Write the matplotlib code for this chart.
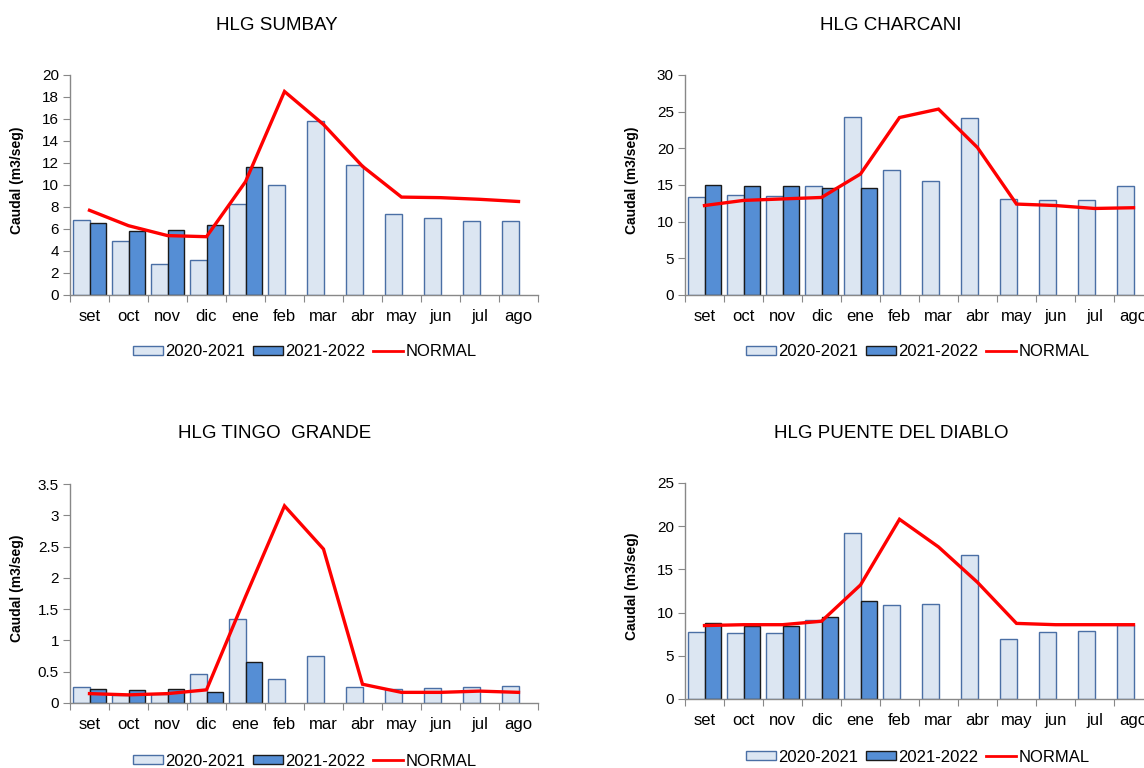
import matplotlib
matplotlib.use('Agg')

import numpy as np
import matplotlib.pyplot as plt
from matplotlib.patches import Patch
from matplotlib.lines import Line2D

plt.rcParams['font.family'] = ['Liberation Sans', 'DejaVu Sans']

meses = ['set', 'oct', 'nov', 'dic', 'ene', 'feb', 'mar', 'abr', 'may', 'jun', 'jul', 'ago']

# caudales medios mensuales (m3/seg)
sumbay_2020 = [6.8, 4.9, 2.8, 3.2, 8.3, 10.0, 15.8, 11.8, 7.4, 7.0, 6.7, 6.7]
sumbay_2021 = [6.5, 5.8, 5.9, 6.4, 11.6]
sumbay_normal = [7.7, 6.3, 5.4, 5.3, 10.3, 18.5, 15.5, 11.7, 8.9, 8.85, 8.7, 8.5]

charcani_2020 = [13.3, 13.6, 13.5, 14.8, 24.3, 17.1, 15.6, 24.1, 13.1, 12.95, 12.95, 14.8]
charcani_2021 = [14.95, 14.8, 14.8, 14.6, 14.6]
charcani_normal = [12.2, 12.9, 13.1, 13.3, 16.5, 24.2, 25.35, 20.1, 12.4, 12.2, 11.8, 11.9]

tingo_2020 = [0.25, 0.13, 0.14, 0.47, 1.35, 0.39, 0.75, 0.25, 0.22, 0.235, 0.25, 0.275]
tingo_2021 = [0.22, 0.2, 0.22, 0.175, 0.66]
tingo_normal = [0.15, 0.13, 0.15, 0.21, 1.7, 3.15, 2.46, 0.30, 0.17, 0.17, 0.19, 0.17]

diablo_2020 = [7.7, 7.6, 7.6, 9.1, 19.2, 10.9, 11.05, 16.7, 7.0, 7.7, 7.9, 8.6]
diablo_2021 = [8.8, 8.4, 8.5, 9.5, 11.3]
diablo_normal = [8.5, 8.6, 8.6, 9.0, 13.2, 20.8, 17.6, 13.5, 8.75, 8.6, 8.6, 8.6]

W, H = 1144, 768
fig = plt.figure(figsize=(W / 100, H / 100), dpi=100)

light = '#dce6f2'
light_edge = '#4a6fa5'
dark = '#558ed5'
dark_edge = '#1a1a1a'
axis_gray = '#888888'


def panel(x0, y_bottom, y_top, title, title_xy, leg_xy, ylab_x,
          s2020, s2021, normal, ymax, step):
    # positions in pixels, 12 categories of ~39 px each
    cat_w = 39.0
    ax = fig.add_axes([x0 / W, 1 - y_bottom / H, cat_w * 12 / W, (y_bottom - y_top) / H])
    x = np.arange(len(meses))
    bw = 0.43
    ax.bar(x - bw / 2, s2020, width=bw, color=light, edgecolor=light_edge, linewidth=1.0, zorder=2)
    ax.bar(x[:len(s2021)] + bw / 2, s2021, width=bw, color=dark, edgecolor=dark_edge, linewidth=1.0, zorder=2)
    ax.plot(x, normal, color='#ff0000', lw=2.4, zorder=3, solid_joinstyle='miter')

    ax.set_xlim(-0.5, 11.5)
    ax.set_ylim(0, ymax)
    yt = np.arange(0, ymax + step / 2, step)
    ax.set_yticks(yt)
    ax.set_yticklabels(['%g' % v for v in yt])
    ax.set_xticks(np.arange(-0.5, 12, 1))
    ax.set_xticklabels([])
    ax.set_xticks(x, minor=True)
    ax.set_xticklabels(meses, minor=True)
    ax.tick_params(axis='x', which='major', length=5, color=axis_gray, direction='out')
    ax.tick_params(axis='x', which='minor', length=0, pad=10, labelsize=12)
    ax.tick_params(axis='y', length=5, color=axis_gray, direction='out', labelsize=11, pad=3)
    for side in ['top', 'right']:
        ax.spines[side].set_visible(False)
    for side in ['left', 'bottom']:
        ax.spines[side].set_color(axis_gray)
        ax.spines[side].set_linewidth(1.0)

    fig.text(title_xy[0] / W, 1 - title_xy[1] / H, title, ha='center', va='center', fontsize=13.5)
    fig.text(ylab_x / W, 1 - ((y_bottom + y_top) / 2 - 5) / H, 'Caudal (m3/seg)', rotation=90,
             ha='center', va='center', fontsize=10, fontweight='bold')

    handles = [
        Patch(facecolor=light, edgecolor=light_edge, label='2020-2021'),
        Patch(facecolor=dark, edgecolor=dark_edge, label='2021-2022'),
        Line2D([0], [0], color='#ff0000', lw=2, label='NORMAL'),
    ]
    fig.legend(handles=handles, loc='center', bbox_to_anchor=(leg_xy[0] / W, 1 - leg_xy[1] / H),
               ncol=3, frameon=False, fontsize=12, handlelength=1.8, handleheight=0.5,
               handletextpad=0.15, columnspacing=0.45, borderpad=0)
    return ax


panel(70, 295, 75, 'HLG SUMBAY', (277, 25), (305, 352), 17,
      sumbay_2020, sumbay_2021, sumbay_normal, 20, 2)
panel(685, 295, 75, 'HLG CHARCANI', (891, 25), (918, 352), 632,
      charcani_2020, charcani_2021, charcani_normal, 30, 5)
panel(70, 703, 484, 'HLG TINGO  GRANDE', (275, 433), (305, 761), 17,
      tingo_2020, tingo_2021, tingo_normal, 3.5, 0.5)
panel(685, 699, 483, 'HLG PUENTE DEL DIABLO', (891, 433), (918, 757), 632,
      diablo_2020, diablo_2021, diablo_normal, 25, 5)

fig.savefig('out.png', dpi=100)
